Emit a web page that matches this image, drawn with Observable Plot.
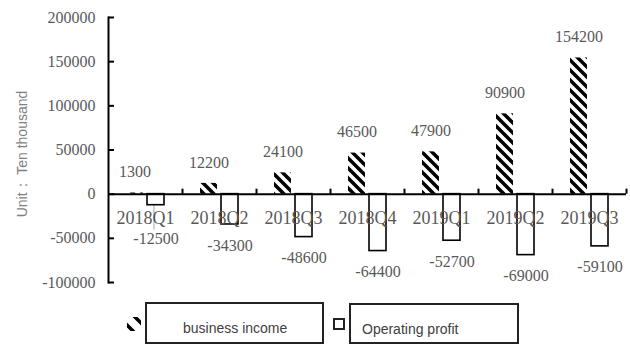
<!DOCTYPE html>
<html>
<head>
<meta charset="utf-8">
<script src="https://cdn.jsdelivr.net/npm/d3@7"></script>
<script src="https://cdn.jsdelivr.net/npm/@observablehq/plot@0.6"></script>
<style>
  body { margin: 0; background: #fff; }
  #chart { position: relative; width: 630px; height: 346px; overflow: hidden; }
  .legend-box { position: absolute; border: 2px solid #222; box-sizing: border-box; background: #fff; }
  .legend-text { position: absolute; font: 14px "Liberation Sans", Arial, sans-serif; color: #404040; white-space: nowrap; line-height: 1; }
  .legend-swatch { position: absolute; }
</style>
</head>
<body>
<div id="chart"></div>
<script>
// Quarterly business income and operating profit (unit: ten thousand)
const quarters = ["2018Q1", "2018Q2", "2018Q3", "2018Q4", "2019Q1", "2019Q2", "2019Q3"];
const businessIncome = [1300, 12200, 24100, 46500, 47900, 90900, 154200];
const operatingProfit = [-12500, -34300, -48600, -64400, -52700, -69000, -59100];
const yTicks = [-100000, -50000, 0, 50000, 100000, 150000, 200000];
const seriesNames = ["business income", "Operating profit"];
const yLabel = "Unit： Ten thousand";

const incomeRows = quarters.map((q, i) => ({q, v: businessIncome[i]}));
const profitRows = quarters.map((q, i) => ({q, v: operatingProfit[i]}));

const W = 630, H = 290;
const mLeft = 108, mRight = 4, mTop = 17, mBottom = 8;
const band = (W - mLeft - mRight) / quarters.length;
const barW = 17, barGap = 4;
const outer = (band - 2 * barW - barGap) / 2;
const serif = "'Liberation Serif', 'Times New Roman', serif";
const sans = "'Liberation Sans', Arial, sans-serif";
const textGray = "#595959";
const fmt = d => String(d);

// shallow profit bars push their label below the category names
const pxPerUnit = (H - mTop - mBottom) / 300000;
const labelGap = 21, minBelowZero = 45;
const shallow = d => -d.v * pxPerUnit + labelGap < minBelowZero;
const shallowDy = d => minBelowZero + d.v * pxPerUnit;

// hatch fill for the income bars
function hatchDefs() {
  const defs = d3.create("svg:defs");
  const p = defs.append("pattern")
    .attr("id", "incomeHatch")
    .attr("patternUnits", "userSpaceOnUse")
    .attr("width", 10).attr("height", 10);
  p.append("rect").attr("width", 10).attr("height", 10).attr("fill", "white");
  p.append("path")
    .attr("d", "M-3,-3L13,13M-3,7L3,13M7,-3L13,3")
    .attr("stroke", "black").attr("stroke-width", 3.5);
  return defs.node();
}

const profitDeep = profitRows.filter(d => !shallow(d));
const profitShallow = profitRows.filter(shallow);

const chart = Plot.plot({
  width: W,
  height: H,
  marginLeft: mLeft,
  marginRight: mRight,
  marginTop: mTop,
  marginBottom: mBottom,
  style: {fontFamily: serif, fontSize: "16px", background: "white"},
  x: {type: "band", domain: quarters, padding: 0, axis: null},
  y: {domain: [-100000, 200000], axis: null},
  marks: [
    hatchDefs,
    // income bars (left of each pair)
    Plot.barY(incomeRows, {
      x: "q", y: "v", fill: "url(#incomeHatch)",
      insetLeft: outer, insetRight: outer + barW + barGap
    }),
    // leader lines for labels pushed further down
    ...profitShallow.map(d => Plot.ruleX([d], {
      x: "q", y1: "v", y2: "v", dx: (barW + barGap) / 2 - 2,
      insetBottom: -(shallowDy(d) - 9), stroke: "#a6a6a6", strokeWidth: 1
    })),
    // operating profit bars (right of each pair)
    Plot.barY(profitRows, {
      x: "q", y: "v", fill: "white", stroke: "black", strokeWidth: 1.6,
      insetLeft: outer + barW + barGap, insetRight: outer
    }),
    // category labels just under the zero line
    Plot.text(quarters, {
      x: d => d, y: 0, dy: 24, text: d => d,
      fontSize: 18, fontFamily: serif, fill: textGray
    }),
    // zero baseline and category dividers
    Plot.ruleY([0], {stroke: "black", strokeWidth: 2}),
    Plot.ruleX(quarters, {
      x: d => d, y1: 0, y2: 0, dx: band / 2, insetTop: -5,
      stroke: "black", strokeWidth: 2
    }),
    // left axis line with inward ticks
    Plot.frame({anchor: "left", stroke: "black", strokeWidth: 2}),
    Plot.tickY(yTicks, {
      y: d => d, x: () => quarters[0], insetRight: band - 6,
      stroke: "black", strokeWidth: 2
    }),
    Plot.axisY({
      ticks: yTicks, tickSize: 0, tickPadding: 13, tickFormat: fmt,
      label: null, fontSize: 16, fontFamily: serif, fill: textGray
    }),
    // value labels
    Plot.text(incomeRows, {
      x: "q", y: "v", text: d => fmt(d.v),
      dx: -(barW + barGap) / 2, dy: -labelGap,
      fontSize: 16, fontFamily: serif, fill: textGray
    }),
    Plot.text(profitDeep, {
      x: "q", y: "v", text: d => fmt(d.v),
      dx: (barW + barGap) / 2, dy: labelGap,
      fontSize: 16, fontFamily: serif, fill: textGray
    }),
    ...profitShallow.map(d => Plot.text([d], {
      x: "q", y: "v", text: r => fmt(r.v),
      dx: (barW + barGap) / 2, dy: shallowDy(d),
      fontSize: 16, fontFamily: serif, fill: textGray
    })),
    // y-axis unit title
    Plot.text([yLabel], {
      frameAnchor: "left", textAnchor: "middle", rotate: -90,
      dx: -86, dy: 4, fontSize: 14,
      fontFamily: sans, fill: "#7f7f7f"
    })
  ]
});

const root = document.getElementById("chart");
root.appendChild(chart);

// legend below the plot
function addBox(left, top, w, h) {
  const el = document.createElement("div");
  el.className = "legend-box";
  Object.assign(el.style, {left: left + "px", top: top + "px", width: w + "px", height: h + "px"});
  root.appendChild(el);
}
function addText(txt, left, top) {
  const el = document.createElement("div");
  el.className = "legend-text";
  el.textContent = txt;
  Object.assign(el.style, {left: left + "px", top: top + "px"});
  root.appendChild(el);
}

// hatch swatch
const sw = d3.create("svg")
  .attr("class", "legend-swatch")
  .attr("width", 14).attr("height", 14)
  .style("left", "127px").style("top", "317px");
const sp = sw.append("defs").append("pattern")
  .attr("id", "swatchHatch").attr("patternUnits", "userSpaceOnUse")
  .attr("width", 16).attr("height", 16)
  .attr("patternTransform", "translate(8,0)");
sp.append("rect").attr("width", 16).attr("height", 16).attr("fill", "white");
sp.append("path").attr("d", "M-3,-3L19,19M-3,13L3,19M13,-3L19,3")
  .attr("stroke", "black").attr("stroke-width", 3.5);
sw.append("rect").attr("width", 14).attr("height", 14).attr("fill", "url(#swatchHatch)");
root.appendChild(sw.node());

addBox(145, 302, 179, 42);
addText(seriesNames[0], 183, 321);

// outlined square swatch
const sq = document.createElement("div");
Object.assign(sq.style, {
  position: "absolute", left: "333px", top: "318px", width: "12px", height: "12px",
  border: "2px solid #222", boxSizing: "border-box", background: "#fff"
});
root.appendChild(sq);

addBox(349, 303, 170, 41);
addText(seriesNames[1], 362, 322);
</script>
</body>
</html>
